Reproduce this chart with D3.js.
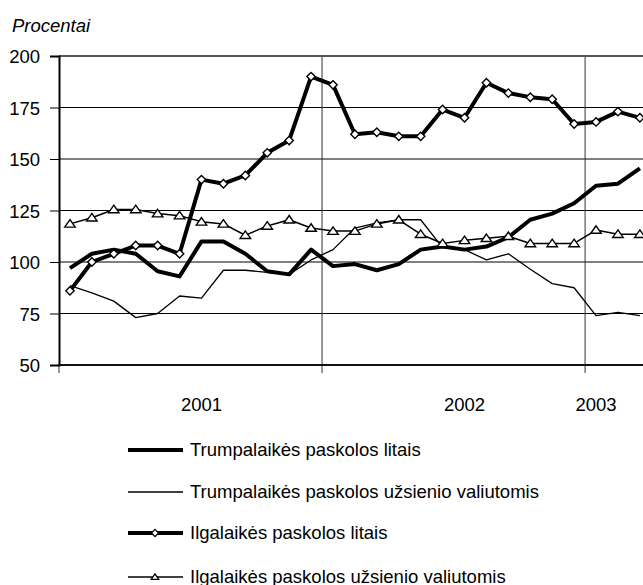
<!DOCTYPE html>
<html>
<head>
<meta charset="utf-8">
<script src="https://cdn.jsdelivr.net/npm/d3@7"></script>
<style>
  body { margin: 0; background: #fff; }
  text { font-family: "Liberation Sans", Arial, sans-serif; font-size: 18.5px; fill: #000; }
</style>
</head>
<body>
<div class="chart"></div>
<script>
"use strict";

// monthly indices, one point per month (the right part is cut off like in the source)
const MONTHS = d3.range(27);
const YEAR_LABELS = ["", "", "", "", "", "", "2001", "", "", "", "", "",
  "", "", "", "", "", "", "2002", "", "", "", "", "", "2003", "", ""];
const Y_TICKS = [50, 75, 100, 125, 150, 175, 200];

const trumpLitais = [97, 104, 106, 104, 95.5, 93, 110, 110, 104, 95.5, 94, 106, 98, 99,
  96, 99, 106, 107.5, 106, 107.5, 112, 120.5, 123.5, 128.5, 137, 138, 145.5];
const trumpValiut = [88.5, 85, 81, 73, 75, 83.5, 82.5, 96, 96, 95, 94, 101, 106, 116.5,
  119, 120.5, 120.5, 107, 106, 101, 104, 96.5, 89.5, 87.5, 74, 75.5, 74];
const ilgLitais = [86, 100, 104, 108, 108, 104, 140, 138, 142, 153, 159, 190, 186, 162,
  163, 161, 161, 174, 170, 187, 182, 180, 179, 167, 168, 173, 170];
const ilgValiut = [118.5, 121.5, 125.5, 125.5, 123.5, 122.5, 119.5, 118.5, 113, 117.5,
  120.5, 116.5, 115, 115, 118.5, 120.5, 113.5, 109, 110.5, 111.5, 112.5, 109, 109, 109,
  115.5, 113.5, 113.5];

const SERIES = [
  { name: "Trumpalaikės paskolos litais", values: trumpLitais, width: 4, marker: null },
  { name: "Trumpalaikės paskolos užsienio valiutomis", values: trumpValiut, width: 1.3, marker: null },
  { name: "Ilgalaikės paskolos litais", values: ilgLitais, width: 4, marker: "diamond" },
  { name: "Ilgalaikės paskolos užsienio valiutomis", values: ilgValiut, width: 1.5, marker: "triangle" }
];

const WIDTH = 643, HEIGHT = 585;
const LEFT = 59, TOP = 56, BOTTOM = 365;
const STEP = 21.92;

const xScale = d3.scaleBand()
  .domain(MONTHS)
  .range([LEFT, LEFT + MONTHS.length * STEP])
  .paddingInner(0)
  .paddingOuter(0);

const yScale = d3.scaleLinear().domain([50, 200]).range([BOTTOM, TOP]);

const cx = (i) => xScale(i) + xScale.bandwidth() / 2;

function markerPath(type, r) {
  if (type === "diamond") {
    return `M0,${-r}L${r},0L0,${r}L${-r},0Z`;
  }
  // triangle, point up
  return `M0,${-r * 0.85}L${r * 1.05},${r * 0.65}L${-r * 1.05},${r * 0.65}Z`;
}

const svg = d3.select(".chart")
  .append("svg")
  .attr("width", WIDTH)
  .attr("height", HEIGHT);

// horizontal grid lines
svg.append("g")
  .selectAll("line")
  .data(Y_TICKS.filter((d) => d > 50 && d < 200))
  .enter()
  .append("line")
  .attr("x1", LEFT)
  .attr("x2", WIDTH)
  .attr("y1", (d) => yScale(d))
  .attr("y2", (d) => yScale(d))
  .attr("stroke", "#000")
  .attr("stroke-width", 1);

// year boundaries (vertical grid + ticks below axis)
svg.append("g")
  .selectAll("line")
  .data([12, 24])
  .enter()
  .append("line")
  .attr("x1", (d) => xScale(d))
  .attr("x2", (d) => xScale(d))
  .attr("y1", TOP)
  .attr("y2", BOTTOM + 8)
  .attr("stroke", "#333")
  .attr("stroke-width", 1);

svg.append("line")
  .attr("x1", LEFT).attr("x2", LEFT)
  .attr("y1", BOTTOM).attr("y2", BOTTOM + 8)
  .attr("stroke", "#333");

// top border
svg.append("line")
  .attr("x1", LEFT).attr("x2", WIDTH)
  .attr("y1", TOP).attr("y2", TOP)
  .attr("stroke", "#555")
  .attr("stroke-width", 2);

// y axis
const yAxis = d3.axisLeft(yScale).tickValues(Y_TICKS).tickSize(9).tickPadding(10);
const yG = svg.append("g")
  .attr("transform", `translate(${LEFT},0)`)
  .call(yAxis);
yG.select(".domain").attr("stroke", "#000").attr("stroke-width", 2);
yG.selectAll(".tick line").attr("stroke", "#000");
yG.selectAll(".tick text")
  .attr("font-size", null)
  .attr("font-family", null)
  .attr("dy", "0.36em");
yG.attr("font-size", null).attr("font-family", null);

// x axis (month categories, year labels)
const xAxis = d3.axisBottom(xScale)
  .tickValues(MONTHS.filter((i) => YEAR_LABELS[i] !== ""))
  .tickFormat((i) => YEAR_LABELS[i])
  .tickSize(0)
  .tickPadding(33);
const xG = svg.append("g")
  .attr("transform", `translate(0,${BOTTOM})`)
  .call(xAxis);
xG.select(".domain").remove();
xG.attr("font-size", null).attr("font-family", null);

svg.append("line")
  .attr("x1", LEFT - 1).attr("x2", WIDTH)
  .attr("y1", BOTTOM).attr("y2", BOTTOM)
  .attr("stroke", "#111")
  .attr("stroke-width", 2);

// axis title
svg.append("text")
  .attr("x", 12)
  .attr("y", 32)
  .style("font-style", "italic")
  .text("Procentai");

// Draws the lines
const line = d3.line()
  .x((d, i) => cx(i))
  .y((d) => yScale(d));

SERIES.forEach((s) => {
  svg.append("path")
    .datum(s.values)
    .attr("d", line)
    .attr("fill", "none")
    .attr("stroke", "#000")
    .attr("stroke-width", s.width)
    .attr("stroke-linejoin", "round");

  if (s.marker) {
    svg.append("g")
      .selectAll("path")
      .data(s.values)
      .enter()
      .append("path")
      .attr("transform", (d, i) => `translate(${cx(i)},${yScale(d)})`)
      .attr("d", markerPath(s.marker, s.marker === "diamond" ? 4.2 : 5))
      .attr("fill", "#fff")
      .attr("stroke", "#000")
      .attr("stroke-width", 1.4);
  }
});

// Legend
const LEGEND_Y = [450, 492, 533, 577];
const legend = svg.append("g");
SERIES.forEach((s, i) => {
  const y = LEGEND_Y[i];
  legend.append("line")
    .attr("x1", 128).attr("x2", 183)
    .attr("y1", y).attr("y2", y)
    .attr("stroke", "#000")
    .attr("stroke-width", s.width);
  if (s.marker) {
    legend.append("path")
      .attr("transform", `translate(155,${y})`)
      .attr("d", markerPath(s.marker, 3.6))
      .attr("fill", "#fff")
      .attr("stroke", "#000")
      .attr("stroke-width", 1.3);
  }
  legend.append("text")
    .attr("x", 190)
    .attr("y", y + 6)
    .text(s.name);
});
</script>
</body>
</html>
